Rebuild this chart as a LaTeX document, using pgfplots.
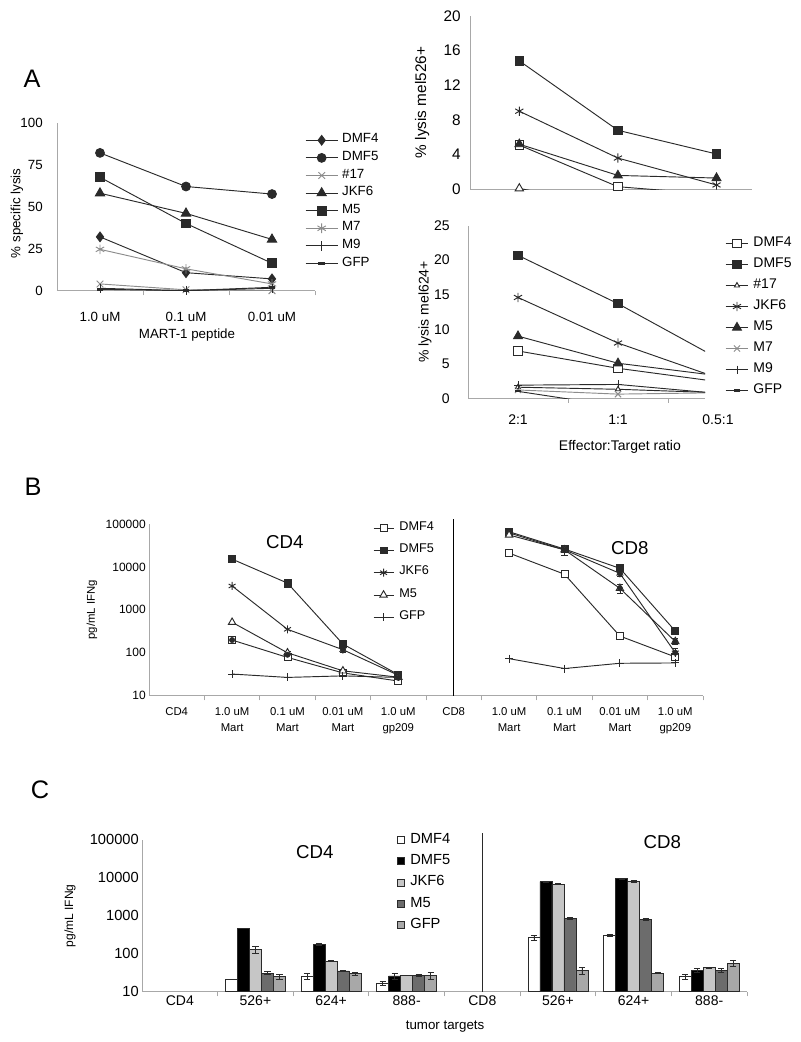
\documentclass[border=0pt]{standalone}
\usepackage{fontspec}
\setmainfont{Liberation Sans}
\usepackage{pgfplots}
\pgfplotsset{compat=1.18}
\definecolor{axgray}{HTML}{A8A8A8}
\definecolor{ln}{HTML}{2A2A2A}
\definecolor{lgray}{HTML}{8C8C8C}
\definecolor{jkf}{HTML}{C6C6C6}
\definecolor{mfive}{HTML}{6C6C6C}
\definecolor{gfpc}{HTML}{A8A8A8}
\newcommand{\fs}[1]{\fontsize{#1}{#1}\selectfont}
\pgfplotsset{
  /pgf/number format/assume math mode=true,
  myaxis/.style={
    scale only axis, anchor=south west,
    axis lines*=left,
    axis line style={axgray, line width=0.7pt},
    tick style={axgray, line width=0.7pt},
    tick align=outside,
    major tick length=0pt, minor tick length=3.5pt,
    xticklabel style={inner sep=0pt, anchor=center},
    yticklabel style={inner sep=0pt, anchor=east},
    xlabel style={anchor=center},
    ylabel style={anchor=center},
    legend cell align=left,
  },
  lp/.style={ln, line width=0.7pt, mark options={solid}},
  linelegend/.style={legend image code/.code={\draw[mark repeat=2,mark phase=2] plot coordinates {(0pt,0pt) (#1/2,0pt) (#1,0pt)};}},
  boxlegend/.style={legend image code/.code={\draw[##1] (0pt,-2.6pt) rectangle (5.2pt,2.6pt);}},
  ebar/.style={error bars/.cd, y dir=both, y explicit, error bar style={ln, line width=0.6pt}, error mark options={rotate=90, mark size=2.3pt, ln, line width=0.6pt}},
}
\begin{document}
\begin{tikzpicture}
\useasboundingbox (0,0) rectangle (600pt,781.5pt);
\fill[white] (0,0) rectangle (600pt,781.5pt);
\node[font=\fs{19}] at (24pt,722.25pt) {A};
\node[font=\fs{19}] at (24.75pt,416.25pt) {B};
\node[font=\fs{19}] at (30pt,189pt) {C};

% ---------- Panel A left ----------
\begin{axis}[myaxis,
  at={(42.75pt,563.5pt)}, width=193.5pt, height=126pt,
  xmin=-0.5, xmax=2.5, ymin=0, ymax=100,
  xtick={0,1,2}, xticklabels={1.0 uM,0.1 uM,0.01 uM},
  minor xtick={0.5,1.5,2.5},
  ytick={0,25,50,75,100},
  ticklabel style={font=\fs{10}},
  xticklabel style={yshift=-19.5pt},
  yticklabel style={xshift=-10.5pt},
  xlabel={MART-1 peptide}, xlabel style={at={(axis description cs:0.504,-0.264)}, font=\fs{10}},
  ylabel={\% specific lysis}, ylabel style={at={(axis description cs:-0.155,0.46)}, font=\fs{10}},
  linelegend=24pt,
  legend style={at={(axis description cs:0.961,0.949)}, anchor=north west, draw=none, fill=none, inner sep=0pt, row sep=0pt, column sep=2pt, font=\fs{10}, nodes={inner sep=1pt, text height=7.6pt, text depth=3.6pt}},
]
\addplot[lp, mark=diamond*, mark size=3.6pt] coordinates {(0,32) (1,10.7) (2,7)};
\addlegendentry{DMF4}
\addplot[lp, mark=*, mark size=3.3pt] coordinates {(0,82) (1,62) (2,57.5)};
\addlegendentry{DMF5}
\addplot[lp, lgray, mark=x, mark size=3.5pt] coordinates {(0,4) (1,0.5) (2,0)};
\addlegendentry{\#17}
\addplot[lp, mark=triangle*, mark size=4pt] coordinates {(0,58) (1,46) (2,30.5)};
\addlegendentry{JKF6}
\addplot[lp, mark=square*, mark size=3.3pt] coordinates {(0,67.5) (1,40) (2,16.3)};
\addlegendentry{M5}
\addplot[lp, lgray, mark=asterisk, mark size=3.6pt] coordinates {(0,24.6) (1,13) (2,4)};
\addlegendentry{M7}
\addplot[lp, mark=|, mark size=3.5pt] coordinates {(0,1.4) (1,0) (2,1.4)};
\addlegendentry{M9}
\addplot[lp, mark=-, mark size=2.5pt, mark options={line width=2pt}] coordinates {(0,0.8) (1,0) (2,2)};
\addlegendentry{GFP}
\end{axis}

% ---------- Panel A top right ----------
\begin{axis}[myaxis,
  at={(352.5pt,639.5pt)}, width=211.5pt, height=130.2pt,
  xmin=-0.5, xmax=2.36, ymin=0, ymax=20,
  xtick=\empty, minor xtick={0.5,1.5},
  ytick={0,4,8,12,16,20},
  ticklabel style={font=\fs{11.5}},
  yticklabel style={xshift=-6.75pt},
  ylabel={\% lysis mel526+}, ylabel style={at={(axis description cs:-0.17,0.5)}, font=\fs{11.5}},
]
\addplot[lp, mark=square*, mark size=3.1pt, mark options={fill=white}] coordinates {(0,5.1) (1,0.3) (2,-0.6)};
\addplot[lp, mark=square*, mark size=3.1pt] coordinates {(0,14.8) (1,6.8) (2,4.07)};
\addplot[lp, mark=triangle*, mark size=3.6pt, mark options={fill=white}] coordinates {(0,0.1) (1,-2) (2,-3)};
\addplot[lp, mark=asterisk, mark size=3.5pt] coordinates {(0,9.0) (1,3.6) (2,0.5)};
\addplot[lp, mark=triangle*, mark size=3.8pt] coordinates {(0,5.2) (1,1.6) (2,1.3)};
\end{axis}

% ---------- Panel A bottom right ----------
\begin{axis}[myaxis,
  at={(351pt,482.8pt)}, width=177.75pt, height=129.45pt,
  xmin=-0.5, xmax=1.87, ymin=0, ymax=25,
  clip mode=individual,
  xtick={0,1}, xticklabels={2:1,1:1},
  minor xtick={0.5,1.5},
  ytick={0,5,10,15,20,25},
  ticklabel style={font=\fs{10.5}},
  xticklabel style={yshift=-16.3pt},
  yticklabel style={xshift=-13.5pt},
  xlabel={Effector:Target ratio}, xlabel style={at={(axis description cs:0.641,-0.28)}, font=\fs{10.5}},
  ylabel={\% lysis mel624+}, ylabel style={at={(axis description cs:-0.181,0.5)}, font=\fs{10.5}},
  linelegend=17pt,
  legend style={at={(axis description cs:1.084,0.959)}, anchor=north west, draw=none, fill=none, inner sep=0pt, row sep=0pt, column sep=2pt, font=\fs{10.5}, nodes={inner sep=1.5pt, text height=8.4pt, text depth=4.35pt}},
]
\addplot[lp, mark=square*, mark size=3.1pt, mark options={fill=white}] coordinates {(0,6.85) (1,4.34) (2,2.4)};
\addlegendentry{DMF4}
\addplot[lp, mark=square*, mark size=3.1pt] coordinates {(0,20.7) (1,13.7) (2,5.77)};
\addlegendentry{DMF5}
\addplot[lp, mark=triangle*, mark size=2.2pt, mark options={fill=white}] coordinates {(0,1.6) (1,1.3) (2,0.8)};
\addlegendentry{\#17}
\addplot[lp, mark=asterisk, mark size=3.5pt] coordinates {(0,14.6) (1,8.0) (2,2.94)};
\addlegendentry{JKF6}
\addplot[lp, mark=triangle*, mark size=3.8pt] coordinates {(0,9.0) (1,5.07) (2,3.27)};
\addlegendentry{M5}
\addplot[lp, lgray, mark=x, mark size=3.3pt] coordinates {(0,1.2) (1,0.6) (2,0.8)};
\addlegendentry{M7}
\addplot[lp, mark=+, mark size=3pt, mark options={line width=0.5pt}] coordinates {(0,1.9) (1,2.0) (2,0.7)};
\addlegendentry{M9}
\addplot[lp, mark=-, mark size=2.5pt, mark options={line width=1.6pt}] coordinates {(0,1.0) (1,-1.2) (2,-3)};
\addlegendentry{GFP}
\node[font=\fs{10.5}, yshift=-16.3pt] at (axis cs:2,0) {0.5:1};
\end{axis}

% ---------- Panel B ----------
\begin{axis}[myaxis,
  at={(111.75pt,259.7pt)}, width=415.5pt, height=128.8pt,
  xmin=-0.5, xmax=9.5, ymode=log, ymin=10, ymax=100000,
  clip=false, unbounded coords=jump,
  xtick={0,1,2,3,4,5,6,7,8,9},
  xticklabels={CD4,{1.0 uM\\Mart},{0.1 uM\\Mart},{0.01 uM\\Mart},{1.0 uM\\gp209},CD8,{1.0 uM\\Mart},{0.1 uM\\Mart},{0.01 uM\\Mart},{1.0 uM\\gp209}},
  xticklabel style={align=center, anchor=north, yshift=-9pt, font=\fontsize{8.5}{12}\selectfont},
  minor xtick={0.5,1.5,2.5,3.5,4.5,5.5,6.5,7.5,8.5,9.5},
  ytick={10,100,1000,10000,100000}, yticklabels={10,100,1000,10000,100000},
  yminorticks=false,
  yticklabel style={font=\fs{9}, xshift=-2.25pt},
  ylabel={pg/mL IFNg}, ylabel style={at={(axis description cs:-0.103,0.5)}, font=\fs{8.5}},
  linelegend=15pt,
  legend style={at={(axis description cs:0.404,1.042)}, anchor=north west, draw=none, fill=none, inner sep=0pt, row sep=0pt, column sep=2pt, font=\fs{9.5}, nodes={inner sep=2pt, text height=8pt, text depth=4.7pt}},
]
\addplot[lp, mark=square*, mark size=2.6pt, mark options={fill=white}] coordinates {(1,198) (2,78) (3,34) (4,22) (5,nan) (6,21000) (7,6760) (8,245) (9,80)};
\addlegendentry{DMF4}
\addplot[lp, mark=square*, mark size=2.6pt] coordinates {(1,15200) (2,4200) (3,160) (4,31) (5,nan) (6,66000) (7,26100) (8,9270) (9,321)};
\addlegendentry{DMF5}
\addplot[lp, mark=asterisk, mark size=3pt] coordinates {(1,3600) (2,352) (3,118) (4,30) (5,nan) (6,62000) (7,25000) (8,7080) (9,100)};
\addlegendentry{JKF6}
\addplot[lp, mark=triangle*, mark size=3.2pt, mark options={fill=white}] coordinates {(1,514) (2,100) (3,38) (4,27) (5,nan) (6,55400) (7,25000) (8,3170) (9,183)};
\addlegendentry{M5}
\addplot[lp, mark=+, mark size=3pt] coordinates {(1,32) (2,26.7) (3,29) (4,26.7) (5,nan) (6,73) (7,43) (8,57) (9,58)};
\addlegendentry{GFP}
\addplot[ln, only marks, mark=none, forget plot, ebar] coordinates {
 (1,198) +- (0,30) (2,4200) +- (0,800) (2,90) +- (0,18) (3,160) +- (0,15) (3,118) +- (0,15)
 (4,26) +- (0,6) (7,25000) +- (0,6000) (8,9270) +- (0,1500) (8,7080) +- (0,1200) (8,3170) +- (0,800)
 (9,321) +- (0,30) (9,183) +- (0,30) (9,100) +- (0,25)};
\draw[black, line width=0.9pt] (axis cs:5,10) -- (axis cs:5,130000);
\node[font=\fs{14}] at (axis cs:1.95,38000) {CD4};
\node[font=\fs{14}] at (axis cs:8.18,27700) {CD8};
\end{axis}

% ---------- Panel C ----------
\begin{axis}[myaxis,
  at={(106.5pt,37.7pt)}, width=453.75pt, height=114pt,
  xmin=-0.5, xmax=7.5, ymode=log, ymin=10, ymax=100000,
  log origin y=infty, clip=false,
  ybar=0pt, bar width=9pt,
  xtick={0,1,2,3,4,5,6,7}, xticklabels={CD4,526+,624+,888-,CD8,526+,624+,888-},
  xticklabel style={font=\fs{10.5}, yshift=-7pt},
  minor xtick={0.5,1.5,2.5,3.5,4.5,5.5,6.5,7.5},
  ytick={10,100,1000,10000,100000}, yticklabels={10,100,1000,10000,100000},
  yminorticks=false,
  yticklabel style={font=\fs{11}, xshift=-2.25pt},
  ylabel={pg/mL IFNg}, ylabel style={at={(axis description cs:-0.119,0.5)}, font=\fs{9}},
  xlabel={tumor targets}, xlabel style={at={(axis description cs:0.501,-0.23)}, font=\fs{10}},
  boxlegend,
  legend style={at={(axis description cs:0.4215,1.069)}, anchor=north west, draw=none, fill=none, inner sep=0pt, row sep=0pt, column sep=2pt, font=\fs{11}, nodes={inner sep=2pt, text height=8.5pt, text depth=3.4pt}},
]
\addplot[fill=white, draw=ln, line width=0.6pt, ebar] coordinates {(1,21) +- (0,0.5) (2,26) +- (0,5) (3,17) +- (0,2) (5,261) +- (0,40) (6,300) +- (0,15) (7,24.6) +- (0,4)};
\addlegendentry{DMF4}
\addplot[fill=black, draw=ln, line width=0.6pt, ebar] coordinates {(1,470) +- (0,5) (2,175) +- (0,8) (3,26) +- (0,5) (5,7870) +- (0,300) (6,9350) +- (0,400) (7,36.7) +- (0,5)};
\addlegendentry{DMF5}
\addplot[fill=jkf, draw=ln, line width=0.6pt, ebar] coordinates {(1,127) +- (0,25) (2,64) +- (0,2) (3,27) +- (0,0.5) (5,6700) +- (0,200) (6,8140) +- (0,500) (7,43) +- (0,2)};
\addlegendentry{JKF6}
\addplot[fill=mfive, draw=ln, line width=0.6pt, ebar] coordinates {(1,31) +- (0,3) (2,35.3) +- (0,2) (3,27) +- (0,1.5) (5,850) +- (0,30) (6,818) +- (0,50) (7,36.7) +- (0,5)};
\addlegendentry{M5}
\addplot[fill=gfpc, draw=ln, line width=0.6pt, ebar] coordinates {(1,24.6) +- (0,4) (2,30) +- (0,3) (3,27) +- (0,6) (5,36.7) +- (0,8) (6,31) +- (0,1) (7,57) +- (0,10)};
\addlegendentry{GFP}
\draw[ln, line width=0.9pt] (axis cs:4,10) -- (axis cs:4,150000);
\node[font=\fs{14}] at (axis cs:1.786,47400) {CD4};
\node[font=\fs{14}] at (axis cs:6.38,87000) {CD8};
\end{axis}
\end{tikzpicture}
\end{document}
